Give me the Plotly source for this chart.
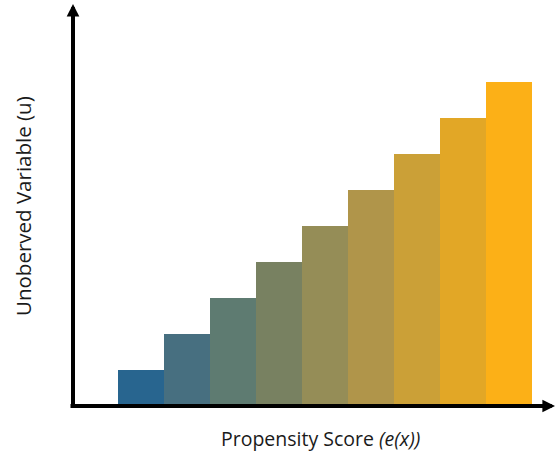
import plotly.graph_objects as go

categories = [1, 2, 3, 4, 5, 6, 7, 8, 9]
values = [1, 2, 3, 4, 5, 6, 7, 8, 9]
colors = ["#28658f", "#476f80", "#5e7b71", "#788161", "#958d57",
          "#b0954a", "#cba037", "#e2a726", "#fcb017"]
x_title = "Propensity Score <i>(e(x))</i>"
y_title = "Unoberved Variable (u)"

W, H = 556, 454
L, R, T, B = 73, 0, 4, 48
PW, PH = W - L - R, H - T - B

fig = go.Figure(go.Bar(x=categories, y=values, marker=dict(color=colors, line=dict(width=0)),
                       hoverinfo="skip"))

fig.update_layout(
    width=W, height=H, margin=dict(l=L, r=R, t=T, b=B, pad=0),
    paper_bgcolor="white", plot_bgcolor="white",
    bargap=0, showlegend=False,
    xaxis=dict(range=[-0.478, 10.02], visible=False, fixedrange=True),
    yaxis=dict(range=[0, 11.17], visible=False, fixedrange=True),
    font=dict(family="Open Sans", color="#1a1a1a"),
)

# axes with arrows
fig.add_annotation(x=0, y=1, xref="paper", yref="paper", text="", showarrow=True,
                   ax=0, ay=404, arrowhead=2, arrowsize=0.63, arrowwidth=4,
                   arrowcolor="black", standoff=0)
fig.add_annotation(x=(W - L + 4) / PW, y=0, xref="paper", yref="paper", text="", showarrow=True,
                   ax=-491, ay=0, arrowhead=2, arrowsize=0.63, arrowwidth=4,
                   arrowcolor="black", standoff=0)

fig.add_annotation(x=(320 - L) / PW, y=-(439 - (H - B)) / PH, xref="paper", yref="paper",
                   text=x_title, showarrow=False, font=dict(size=19.5),
                   xanchor="center", yanchor="middle")
fig.add_annotation(x=(23 - L) / PW, y=(H - B - 206) / PH, xref="paper", yref="paper",
                   text=y_title, showarrow=False, textangle=-90, font=dict(size=20.5),
                   xanchor="center", yanchor="middle")

fig.write_html("out.html", config={"displayModeBar": False},
               post_script="document.body.style.margin='0px';")
